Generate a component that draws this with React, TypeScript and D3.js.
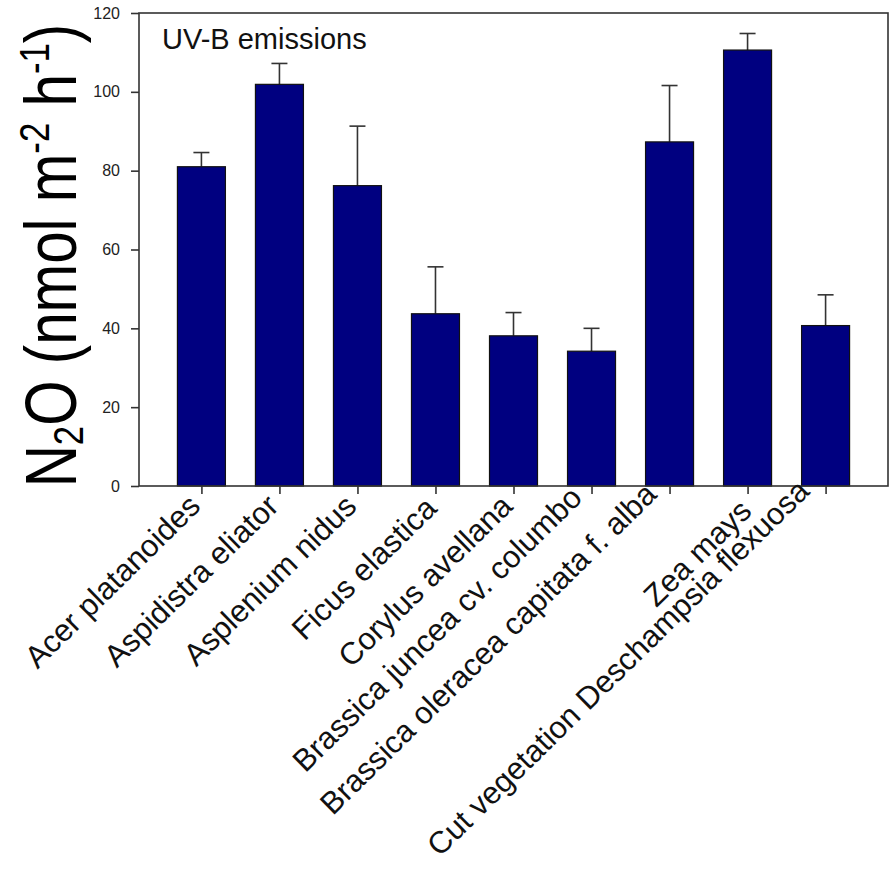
import React, { useRef, useEffect } from 'react';
import * as d3 from 'd3';

// species on the x axis
const species = [
  'Acer platanoides',
  'Aspidistra eliator',
  'Asplenium nidus',
  'Ficus elastica',
  'Corylus avellana',
  'Brassica juncea cv. columbo',
  'Brassica oleracea capitata f. alba',
  'Zea mays',
  'Cut vegetation Deschampsia flexuosa',
];

// mean N2O emission and its (upper) error
const means = [81.0, 101.9, 76.2, 43.7, 38.1, 34.2, 87.3, 110.6, 40.7];
const errors = [3.6, 5.3, 15.1, 11.9, 5.9, 5.8, 14.3, 4.2, 7.8];

const yTicks = [0, 20, 40, 60, 80, 100, 120];

const W = 892;
const H = 869;

const App = () => {
  const svgRef = useRef<SVGSVGElement | null>(null);

  useEffect(() => {
    const svg = d3.select(svgRef.current);
    svg.selectAll('*').remove();

    const margin = { top: 13, right: 4, bottom: 383, left: 139 };
    const left = margin.left;
    const right = W - margin.right;
    const top = margin.top;
    const bottom = H - margin.bottom;
    const axisColor = '#333';
    const font = 'Liberation Sans, Arial, sans-serif';

    const x = d3.scalePoint<string>().domain(species).range([left, right]).padding(0.8);
    const y = d3.scaleLinear().domain([0, 120]).range([bottom, top]);
    const barW = 48;
    const capW = 16;

    const data = species.map((s, i) => ({ name: s, mean: means[i], err: errors[i] }));

    // error bars (upper only), drawn behind bars
    const eb = svg.append('g').attr('stroke', axisColor).attr('stroke-width', 1.6);
    eb.selectAll('line.v')
      .data(data)
      .enter().append('line')
      .attr('class', 'v')
      .attr('x1', d => x(d.name)!)
      .attr('x2', d => x(d.name)!)
      .attr('y1', d => y(d.mean))
      .attr('y2', d => y(d.mean + d.err));
    eb.selectAll('line.c')
      .data(data)
      .enter().append('line')
      .attr('class', 'c')
      .attr('x1', d => x(d.name)! - capW / 2)
      .attr('x2', d => x(d.name)! + capW / 2)
      .attr('y1', d => y(d.mean + d.err))
      .attr('y2', d => y(d.mean + d.err));

    // bars
    svg.append('g')
      .selectAll('rect')
      .data(data)
      .enter().append('rect')
      .attr('x', d => x(d.name)! - barW / 2)
      .attr('y', d => y(d.mean))
      .attr('width', barW)
      .attr('height', d => y(0) - y(d.mean))
      .attr('fill', '#000080')
      .attr('stroke', '#111')
      .attr('stroke-width', 1.2);

    // frame
    svg.append('rect')
      .attr('x', left)
      .attr('y', top)
      .attr('width', right - left)
      .attr('height', bottom - top)
      .attr('fill', 'none')
      .attr('stroke', axisColor)
      .attr('stroke-width', 1.6);

    // y axis
    const yAxis = svg.append('g')
      .attr('transform', `translate(${left},0)`)
      .call(d3.axisLeft(y).tickValues(yTicks).tickSize(8).tickPadding(11));
    yAxis.select('.domain').remove();
    yAxis.selectAll('line').attr('stroke', axisColor).attr('stroke-width', 1.6);
    yAxis.selectAll('text')
      .attr('font-family', font)
      .attr('font-size', 16)
      .attr('fill', '#222');

    // x axis ticks
    const xAxis = svg.append('g')
      .attr('transform', `translate(0,${bottom})`)
      .call(d3.axisBottom(x).tickSize(8).tickFormat(() => ''));
    xAxis.select('.domain').remove();
    xAxis.selectAll('line').attr('stroke', axisColor).attr('stroke-width', 1.6);

    // rotated category labels; longer labels sit slightly higher, as in the original
    const labels = svg.append('g')
      .selectAll('text')
      .data(species)
      .enter().append('text')
      .attr('font-family', font)
      .attr('font-size', 31)
      .attr('fill', '#111')
      .attr('text-anchor', 'end')
      .text(d => d);
    labels.each(function (d) {
      const el = this as SVGTextElement;
      const L = el.getComputedTextLength();
      const bx = x(d)! + 13 - 0.053 * L;
      const by = bottom + 34 - 0.052 * L;
      d3.select(el).attr('transform', `translate(${bx},${by}) rotate(-44.5)`);
    });

    // inner title
    svg.append('text')
      .attr('x', 162)
      .attr('y', 49)
      .attr('font-family', font)
      .attr('font-size', 29)
      .attr('fill', '#111')
      .text('UV-B emissions');

    // y axis title
    const yt = svg.append('text')
      .attr('transform', `translate(76,${(top + bottom) / 2 + 6}) rotate(-90) scale(0.81,1)`)
      .attr('text-anchor', 'middle')
      .attr('font-family', font)
      .attr('font-size', 72)
      .attr('fill', '#000');
    yt.append('tspan').text('N');
    yt.append('tspan').attr('font-size', 43).attr('dy', 7).text('2');
    yt.append('tspan').attr('dy', -7).text('O (nmol m');
    yt.append('tspan').attr('font-size', 43).attr('dy', -27).text('-2');
    yt.append('tspan').attr('dy', 27).text(' h');
    yt.append('tspan').attr('font-size', 43).attr('dy', -27).text('-1');
    yt.append('tspan').attr('dy', 27).text(')');
  }, []);

  return (
    <svg
      ref={svgRef}
      width={W}
      height={H}
      style={{ position: 'absolute', left: 0, top: 0, background: '#fff' }}
    />
  );
};

export default App;
